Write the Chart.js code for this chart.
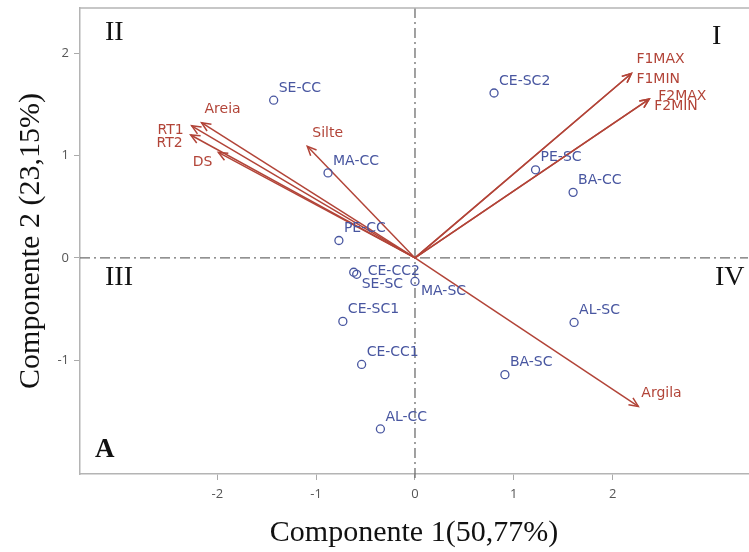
<!DOCTYPE html>
<html>
<head>
<meta charset="utf-8">
<script src="https://cdn.jsdelivr.net/npm/chart.js@4.4.0/dist/chart.umd.min.js"></script>
<style>
    html, body { margin: 0; padding: 0; background: #fff; }
    #wrap { width: 749px; height: 552px; }
</style>
</head>
<body>
<div id="wrap"><canvas id="biplot" width="749" height="552"></canvas></div>
<script>
// sample scores on the first two principal components
var sampleNames = ['SE-CC', 'MA-CC', 'PE-CC', 'CE-SC2', 'PE-SC', 'BA-CC', 'CE-CC2',
                   'SE-SC', 'MA-SC', 'CE-SC1', 'CE-CC1', 'AL-CC', 'AL-SC', 'BA-SC'];
var sampleC1 = [-1.43, -0.88, -0.77, 0.80, 1.22, 1.60, -0.62, -0.59, 0.00, -0.73, -0.54, -0.35, 1.61, 0.91];
var sampleC2 = [1.54, 0.83, 0.17, 1.61, 0.86, 0.64, -0.14, -0.16, -0.23, -0.62, -1.04, -1.67, -0.63, -1.14];

// variable loadings (arrow tips)
var varNames = ['F1MAX', 'F1MIN', 'F2MAX', 'F2MIN', 'Argila', 'Areia', 'RT1', 'RT2', 'DS', 'Silte'];
var varC1 = [2.19, 2.19, 2.37, 2.37, 2.26, -2.16, -2.26, -2.27, -1.99, -1.09];
var varC2 = [1.80, 1.80, 1.55, 1.55, -1.45, 1.32, 1.29, 1.20, 1.03, 1.09];

var xTicks = [-2, -1, 0, 1, 2];
var yTicks = [-1, 0, 1, 2];
var xRange = [-3.39, 3.37];
var yRange = [-2.11, 2.44];

var blue = 'rgb(72, 86, 160)';
var red = 'rgb(178, 68, 56)';
var labelFont = '14px "DejaVu Sans", sans-serif';

// where each label sits relative to its mark: [dx, dy, align]
var varLabelPos = {
    F1MAX: [5, -14, 'left'],
    F1MIN: [5, 6, 'left'],
    F2MAX: [9, -3, 'left'],
    F2MIN: [5, 7, 'left'],
    Argila: [3, -13, 'left'],
    Areia: [3, -13, 'left'],
    RT1: [-8, 5, 'right'],
    RT2: [-8, 8, 'right'],
    DS: [-6, 10, 'right'],
    Silte: [5, -13, 'left']
};
var sampleLabelPos = {
    'CE-CC2': [14, -1],
    'SE-SC': [5, 10],
    'MA-SC': [6, 10]
};

var datasets = [{
    label: 'amostras',
    data: sampleNames.map(function (n, i) { return { x: sampleC1[i], y: sampleC2[i] }; }),
    pointStyle: 'circle',
    radius: 4,
    borderColor: blue,
    backgroundColor: 'rgba(0,0,0,0)',
    borderWidth: 1.3,
    showLine: false
}];

varNames.forEach(function (name, i) {
    datasets.push({
        label: name,
        isArrow: true,
        data: [{ x: 0, y: 0 }, { x: varC1[i], y: varC2[i] }],
        showLine: true,
        borderColor: red,
        borderWidth: 1.5,
        pointRadius: 0,
        fill: false
    });
});

var biplotDecor = {
    id: 'biplotDecor',
    beforeDatasetsDraw: function (chart) {
        var ctx = chart.ctx, area = chart.chartArea;
        var x0 = chart.scales.x.getPixelForValue(0);
        var y0 = chart.scales.y.getPixelForValue(0);
        ctx.save();
        // dash-dot reference axes through the origin
        ctx.strokeStyle = '#6e6e6e';
        ctx.lineWidth = 1.3;
        ctx.setLineDash([10, 4, 2, 4]);
        ctx.beginPath();
        ctx.moveTo(area.left, y0);
        ctx.lineTo(area.right, y0);
        ctx.moveTo(x0, area.top);
        ctx.lineTo(x0, area.bottom + 5);
        ctx.stroke();
        ctx.setLineDash([]);
        // top frame line
        ctx.strokeStyle = '#b4b4b4';
        ctx.lineWidth = 1.5;
        ctx.beginPath();
        ctx.moveTo(area.left, area.top);
        ctx.lineTo(area.right + 1, area.top);
        ctx.stroke();
        ctx.restore();
    },
    afterDatasetsDraw: function (chart) {
        var ctx = chart.ctx, area = chart.chartArea;
        var sx = chart.scales.x, sy = chart.scales.y;
        ctx.save();

        // arrow heads
        ctx.strokeStyle = red;
        ctx.lineWidth = 1.5;
        chart.data.datasets.forEach(function (ds, i) {
            if (!ds.isArrow) return;
            var pts = chart.getDatasetMeta(i).data;
            var a = pts[0], b = pts[1];
            var ang = Math.atan2(b.y - a.y, b.x - a.x);
            ctx.beginPath();
            ctx.moveTo(b.x - 10 * Math.cos(ang - 0.42), b.y - 10 * Math.sin(ang - 0.42));
            ctx.lineTo(b.x, b.y);
            ctx.lineTo(b.x - 10 * Math.cos(ang + 0.42), b.y - 10 * Math.sin(ang + 0.42));
            ctx.stroke();
        });

        ctx.font = labelFont;
        ctx.textBaseline = 'middle';

        // variable names
        ctx.fillStyle = red;
        varNames.forEach(function (name, i) {
            var p = varLabelPos[name];
            ctx.textAlign = p[2];
            ctx.fillText(name, sx.getPixelForValue(varC1[i]) + p[0], sy.getPixelForValue(varC2[i]) + p[1]);
        });

        // sample names
        ctx.fillStyle = blue;
        ctx.textAlign = 'left';
        sampleNames.forEach(function (name, i) {
            var p = sampleLabelPos[name] || [5, -12];
            ctx.fillText(name, sx.getPixelForValue(sampleC1[i]) + p[0], sy.getPixelForValue(sampleC2[i]) + p[1]);
        });

        // quadrant numerals and panel letter
        ctx.fillStyle = '#111';
        ctx.textBaseline = 'alphabetic';
        ctx.font = '28px "Liberation Serif", "Times New Roman", serif';
        ctx.fillText('II', area.left + 25, area.top + 32);
        ctx.fillText('I', area.right - 36, area.top + 36);
        ctx.fillText('III', area.left + 25, area.top + 277);
        ctx.fillText('IV', area.right - 33, area.top + 277);
        ctx.font = 'bold 27px "Liberation Serif", "Times New Roman", serif';
        ctx.fillText('A', area.left + 15, area.top + 449);
        ctx.restore();
    }
};

var tickFont = { family: '"Open Sans", sans-serif', size: 13 };
var titleFont = { family: '"Liberation Serif", "Times New Roman", serif', size: 30 };

new Chart(document.getElementById('biplot').getContext('2d'), {
    type: 'scatter',
    data: { datasets: datasets },
    options: {
        responsive: false,
        animation: false,
        events: [],
        layout: { autoPadding: false, padding: { top: 8, right: 1, left: 0, bottom: 0 } },
        plugins: {
            legend: { display: false },
            tooltip: { enabled: false }
        },
        scales: {
            x: {
                type: 'linear',
                min: xRange[0],
                max: xRange[1],
                afterBuildTicks: function (scale) {
                    scale.ticks = xTicks.map(function (v) { return { value: v }; });
                },
                afterFit: function (scale) {
                    scale.height = 78;
                    scale.paddingLeft = 0;
                    scale.paddingRight = 0;
                },
                grid: { drawOnChartArea: false, drawTicks: true, tickLength: 6, color: '#aaa' },
                border: { display: true, color: '#b4b4b4', width: 1.5 },
                ticks: { color: '#555', font: tickFont, padding: 6, maxRotation: 0 },
                title: {
                    display: true,
                    text: 'Componente 1(50,77%)',
                    color: '#111',
                    font: titleFont,
                    padding: { top: 0, bottom: 1 }
                }
            },
            y: {
                type: 'linear',
                min: yRange[0],
                max: yRange[1],
                afterBuildTicks: function (scale) {
                    scale.ticks = yTicks.map(function (v) { return { value: v }; });
                },
                afterFit: function (scale) {
                    scale.width = 80;
                    scale.paddingTop = 0;
                    scale.paddingBottom = 0;
                },
                grid: { drawOnChartArea: false, drawTicks: true, tickLength: 6, color: '#aaa' },
                border: { display: true, color: '#b4b4b4', width: 1.5 },
                ticks: { color: '#555', font: tickFont, padding: 5 },
                title: {
                    display: true,
                    text: 'Componente 2 (23,15%)',
                    color: '#111',
                    font: titleFont,
                    padding: { top: 13, bottom: 0 }
                }
            }
        }
    },
    plugins: [biplotDecor]
});
</script>
</body>
</html>
